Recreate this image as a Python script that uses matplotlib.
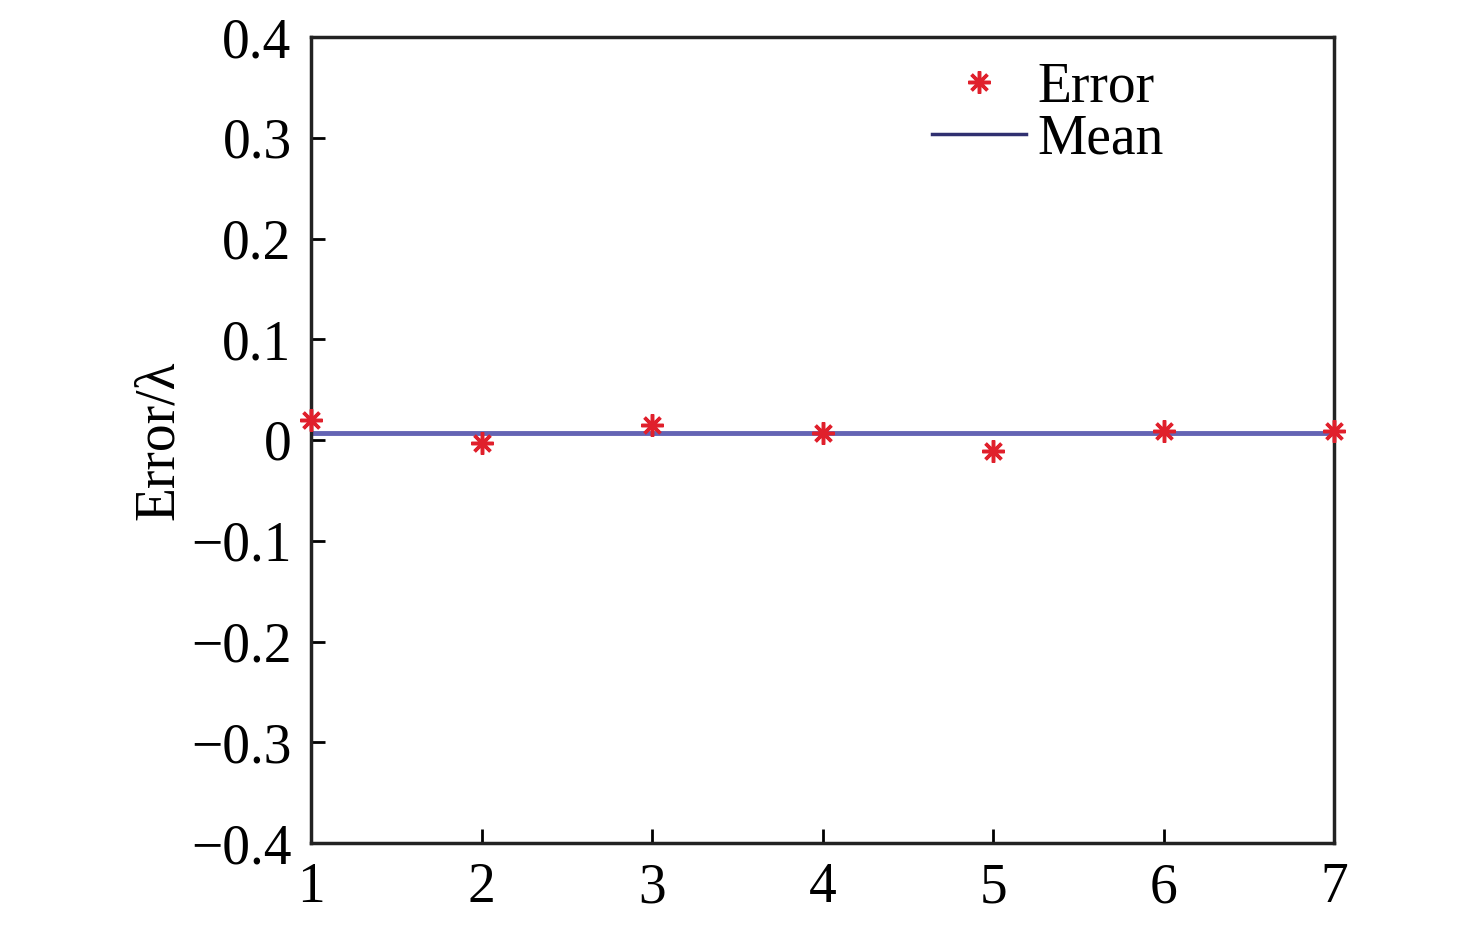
import numpy as np
import matplotlib
matplotlib.use('Agg')
import matplotlib.pyplot as plt

# Data
index = [1, 2, 3, 4, 5, 6, 7]
error = [0.020, -0.003, 0.015, 0.007, -0.011, 0.009, 0.009]
ytick_vals = [-0.4, -0.3, -0.2, -0.1, 0, 0.1, 0.2, 0.3, 0.4]
ytick_labels = ['\u22120.4', '\u22120.3', '\u22120.2', '\u22120.1', '0',
                '0.1', '0.2', '0.3', '0.4']

plt.rcParams['font.family'] = ['Liberation Serif', 'DejaVu Serif']
plt.rcParams['font.size'] = 40

fig = plt.figure(figsize=(14.76, 9.25), dpi=100)
ax = fig.add_axes([311/1476, 1 - 843/925, (1334-311)/1476, (843-37)/925])

mean_err = np.mean(error)
ax.plot([index[0], index[-1]], [mean_err, mean_err], color='#6464b4', lw=3.5,
        label='Mean', zorder=2)
ax.plot(index, error, linestyle='none', marker=(8, 2, 0), ms=16, mew=2.5,
        color='#e0202c', label='Error', zorder=3, clip_on=False)

ax.set_xlim(1, 7)
ax.set_ylim(-0.4, 0.4)
ax.set_xticks(index)
ax.set_yticks(ytick_vals)
ax.set_yticklabels(ytick_labels)
ax.tick_params(direction='in', length=10, width=2)
ax.tick_params(axis='x', pad=14)
ax.tick_params(axis='y', pad=14)
for s in ax.spines.values():
    s.set_linewidth(2.5)
    s.set_color('#222222')

ax.set_ylabel('Error/\u03bb', labelpad=4)

h, l = ax.get_legend_handles_labels()
leg = ax.legend([h[1], h[0]], [l[1], l[0]], loc='upper right', frameon=False,
                bbox_to_anchor=(0.877, 1.025), handlelength=1.7, handletextpad=0.2,
                labelspacing=0.0, borderpad=0.3)
leg.legend_handles[1].set_color('#303070')
leg.legend_handles[1].set_linewidth(2.5)

fig.savefig('out.png', dpi=100)
